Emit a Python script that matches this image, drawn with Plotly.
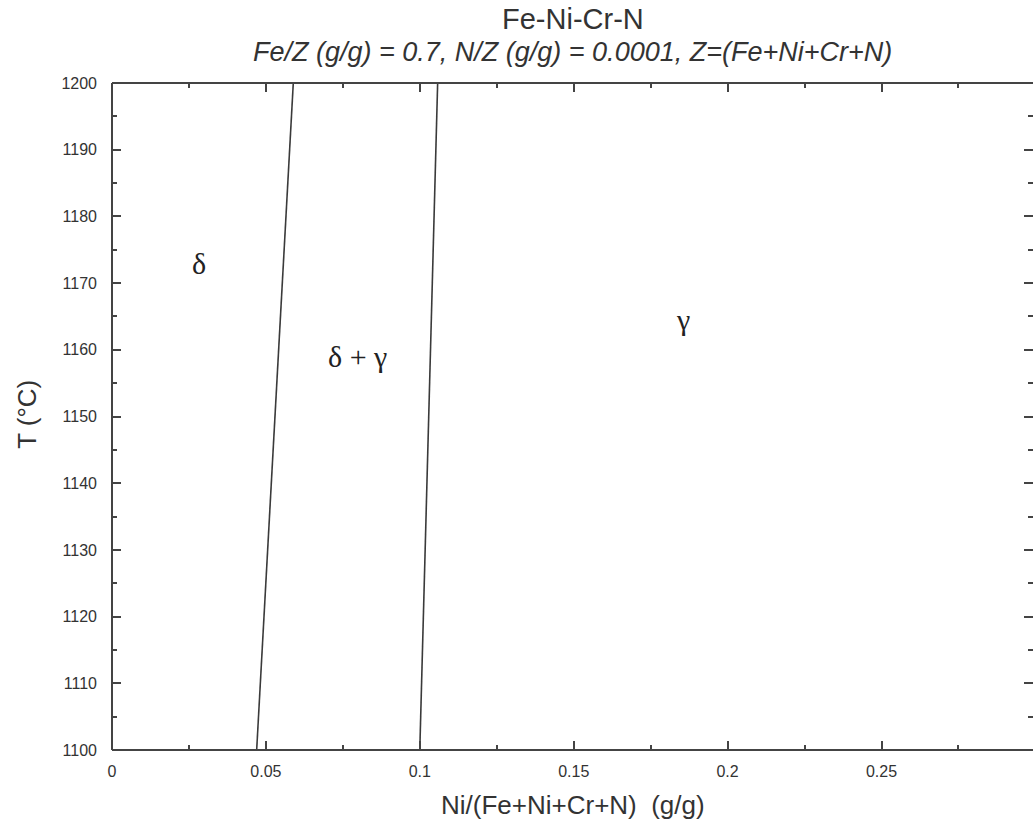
import plotly.graph_objects as go

# Phase boundaries: temperature (°C) vs Ni mass fraction
temp_c = [1100, 1200]
delta_gamma_low_ni = [0.0470, 0.0589]    # δ / δ+γ boundary
delta_gamma_high_ni = [0.1000, 0.1058]   # δ+γ / γ boundary

# Phase-field labels
phase_labels = ["δ", "δ + γ", "γ"]
phase_label_ni = [0.0283, 0.0799, 0.1855]
phase_label_t = [1173.0, 1159.0, 1164.5]

x_range = [0.0, 0.29922]
y_range = [1100, 1200]
x_ticks = [0, 0.05, 0.1, 0.15, 0.2, 0.25]
x_ticktext = ["0", "0.05", "0.1", "0.15", "0.2", "0.25"]
y_ticks = list(range(1100, 1201, 10))

line_col = "#3a3a3a"
axis_col = "#444444"
text_col = "#333333"
sans = "Liberation Sans"

# pixel geometry of the plotting area (used to place titles in paper units)
left_px, right_px = 112.0, 1033.0
top_px, bottom_px = 83.3, 750.0
plot_h = bottom_px - top_px
x_mid = 0.1497


def paper_y(px):
    return (bottom_px - px) / plot_h


fig = go.Figure()
for xs in (delta_gamma_low_ni, delta_gamma_high_ni):
    fig.add_trace(go.Scatter(x=xs, y=temp_c, mode="lines",
                             line=dict(color=line_col, width=1.6),
                             showlegend=False, hoverinfo="skip"))

for lbl, lx, ly in zip(phase_labels, phase_label_ni, phase_label_t):
    fig.add_annotation(x=lx, y=ly, xref="x", yref="y", text=lbl, showarrow=False,
                       font=dict(family="Liberation Serif", size=30, color="#222222"))

# Titles
fig.add_annotation(x=x_mid, y=paper_y(19), xref="x", yref="paper", text="Fe-Ni-Cr-N",
                   showarrow=False, yanchor="middle",
                   font=dict(family=sans, size=29, color=text_col))
fig.add_annotation(x=x_mid, y=paper_y(52), xref="x", yref="paper",
                   text="<i>Fe/Z (g/g) = 0.7, N/Z (g/g) = 0.0001, Z=(Fe+Ni+Cr+N)</i>",
                   showarrow=False, yanchor="middle",
                   font=dict(family=sans, size=27, color=text_col))
fig.add_annotation(x=x_mid, y=paper_y(805), xref="x", yref="paper",
                   text="Ni/(Fe+Ni+Cr+N)  (g/g)", showarrow=False, yanchor="middle",
                   font=dict(family=sans, size=26, color=text_col))
fig.add_annotation(x=-(left_px - 27) / (right_px - left_px), y=paper_y(415),
                   xref="paper", yref="paper",
                   text="T (°C)", showarrow=False, textangle=-90,
                   xanchor="center", yanchor="middle",
                   font=dict(family=sans, size=26, color=text_col))

# Frame: left, top and bottom edges (right edge falls at the page border)
for x0, y0, x1, y1 in [(0, 0, 0, 1), (0, 1, 1, 1), (0, 0, 1, 0)]:
    fig.add_shape(type="line", xref="paper", yref="paper", x0=x0, y0=y0, x1=x1, y1=y1,
                  line=dict(color=axis_col, width=2))

fig.update_layout(
    width=1033, height=825,
    margin=dict(l=112, r=0, t=83, b=75),
    paper_bgcolor="white", plot_bgcolor="white",
    font=dict(family=sans, color=text_col),
    xaxis=dict(range=x_range, tickvals=x_ticks, ticktext=x_ticktext,
               ticks="inside", ticklen=9, tickwidth=1.5, tickcolor=axis_col,
               minor=dict(dtick=0.025, tick0=0, ticks="inside", ticklen=5,
                          tickwidth=1.5, tickcolor=axis_col),
               showline=False, mirror="ticks", showgrid=False, zeroline=False,
               tickfont=dict(family=sans, size=16, color=text_col), ticklabelstandoff=10),
    yaxis=dict(range=y_range, tickvals=y_ticks,
               ticks="inside", ticklen=9, tickwidth=1.5, tickcolor=axis_col,
               minor=dict(dtick=5, tick0=1100, ticks="inside", ticklen=5,
                          tickwidth=1.5, tickcolor=axis_col),
               showline=False, mirror="ticks", showgrid=False, zeroline=False,
               tickfont=dict(family=sans, size=16, color=text_col), ticklabelstandoff=14),
)

fig.write_html("out.html")
